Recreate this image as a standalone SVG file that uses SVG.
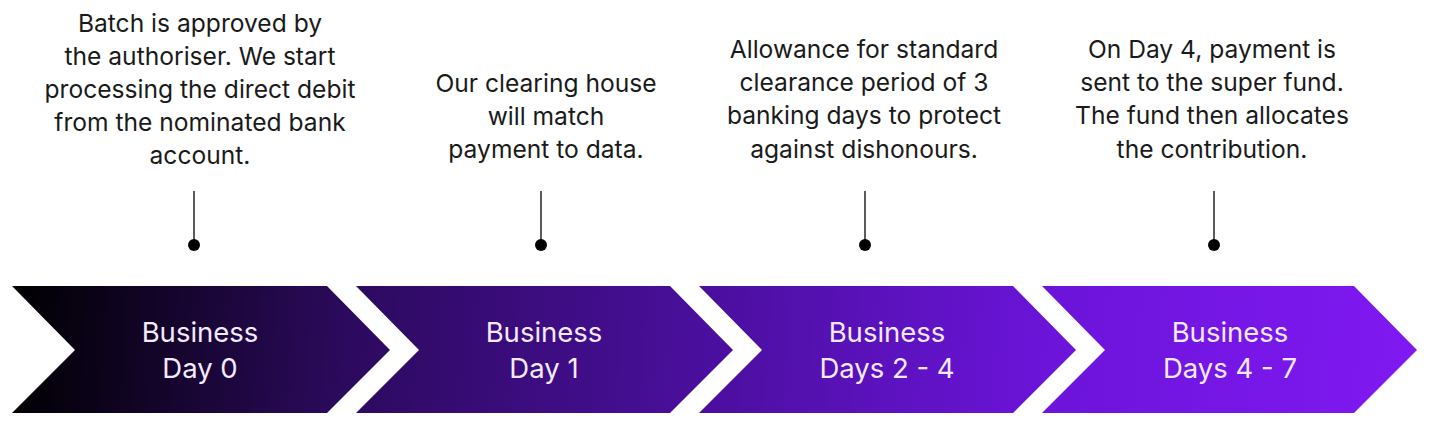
<svg xmlns="http://www.w3.org/2000/svg" width="1438" height="429" viewBox="0 0 1438 429">
  <defs>
    <linearGradient id="grad" gradientUnits="userSpaceOnUse" x1="12" y1="300" x2="1417" y2="400">
      <stop offset="0" stop-color="#000000"/>
      <stop offset="0.24" stop-color="#2c0a5e"/>
      <stop offset="0.5" stop-color="#4b0f9f"/>
      <stop offset="0.74" stop-color="#6c14da"/>
      <stop offset="1" stop-color="#8019f2"/>
    </linearGradient>
    <style>
      .chev { fill: url(#grad); }
      .desc { font-family: Inter, "Liberation Sans", sans-serif; font-size: 24.6px; fill: #1a1a1a; text-anchor: middle; }
      .lbl { font-family: Inter, "Liberation Sans", sans-serif; font-size: 27.5px; fill: #f3eaff; text-anchor: middle; }
      .pin { stroke: #333333; stroke-width: 1.6; }
      .dot { fill: #000000; }
    </style>
  </defs>

  <g id="connectors">
    <line class="pin" x1="194" y1="191" x2="194" y2="244"/>
    <circle class="dot" cx="194" cy="245" r="6"/>
    <line class="pin" x1="541" y1="191" x2="541" y2="244"/>
    <circle class="dot" cx="541" cy="245" r="6"/>
    <line class="pin" x1="865" y1="191" x2="865" y2="244"/>
    <circle class="dot" cx="865" cy="245" r="6"/>
    <line class="pin" x1="1214" y1="191" x2="1214" y2="244"/>
    <circle class="dot" cx="1214" cy="245" r="6"/>
  </g>

  <g id="note-day0">
    <text class="desc" x="200" y="32">Batch is approved by</text>
    <text class="desc" x="200" y="65">the authoriser. We start</text>
    <text class="desc" x="200" y="98">processing the direct debit</text>
    <text class="desc" x="200" y="131">from the nominated bank</text>
    <text class="desc" x="200" y="164">account.</text>
  </g>
  <g id="note-day1">
    <text class="desc" x="546" y="92">Our clearing house</text>
    <text class="desc" x="546" y="125">will match</text>
    <text class="desc" x="546" y="158">payment to data.</text>
  </g>
  <g id="note-day2-4">
    <text class="desc" x="864" y="58">Allowance for standard</text>
    <text class="desc" x="864" y="91">clearance period of 3</text>
    <text class="desc" x="864" y="124">banking days to protect</text>
    <text class="desc" x="864" y="158">against dishonours.</text>
  </g>
  <g id="note-day4-7">
    <text class="desc" x="1212" y="58">On Day 4, payment is</text>
    <text class="desc" x="1212" y="91">sent to the super fund.</text>
    <text class="desc" x="1212" y="124">The fund then allocates</text>
    <text class="desc" x="1212" y="158">the contribution.</text>
  </g>

  <g id="chevron-day0">
    <polygon class="chev" points="12,286 327,286 390,350 327,413 12,413 75,350"/>
    <text class="lbl" x="200" y="342">Business</text>
    <text class="lbl" x="200" y="378">Day 0</text>
  </g>
  <g id="chevron-day1">
    <polygon class="chev" points="356,286 670,286 733,350 670,413 356,413 419,350"/>
    <text class="lbl" x="544" y="342">Business</text>
    <text class="lbl" x="544" y="378">Day 1</text>
  </g>
  <g id="chevron-day2-4">
    <polygon class="chev" points="699,286 1013,286 1076,350 1013,413 699,413 762,350"/>
    <text class="lbl" x="887" y="342">Business</text>
    <text class="lbl" x="887" y="378">Days 2 - 4</text>
  </g>
  <g id="chevron-day4-7">
    <polygon class="chev" points="1042,286 1354,286 1417,350 1354,413 1042,413 1105,350"/>
    <text class="lbl" x="1230" y="342">Business</text>
    <text class="lbl" x="1230" y="378">Days 4 - 7</text>
  </g>
</svg>
